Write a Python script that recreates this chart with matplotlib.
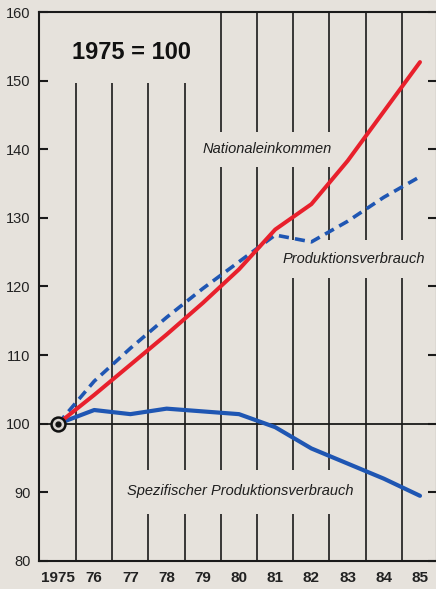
import matplotlib
matplotlib.use("Agg")
import matplotlib.pyplot as plt

# Daten (1975 = 100)
jahre = [1975, 1976, 1977, 1978, 1979, 1980, 1981, 1982, 1983, 1984, 1985]
nationaleinkommen = [100, 104.2, 108.6, 113.0, 117.6, 122.5, 128.3, 132.0, 138.3, 145.5, 152.7]
produktionsverbrauch = [100, 106.2, 111.0, 115.5, 119.7, 123.6, 127.5, 126.5, 129.5, 133.0, 136.0]
spezifisch = [100, 102.0, 101.4, 102.2, 101.8, 101.4, 99.5, 96.4, 94.2, 92.0, 89.5]
x_labels = ['1975', '76', '77', '78', '79', '80', '81', '82', '83', '84', '85']
y_ticks = [80, 90, 100, 110, 120, 130, 140, 150, 160]

bg = '#e6e2dc'
rot = '#e8202c'
blau = '#1f56b3'
plt.rcParams['font.family'] = ['Liberation Sans', 'DejaVu Sans']

fig = plt.figure(figsize=(4.36, 5.89), dpi=100, facecolor=bg)
ax = fig.add_axes([39 / 436, 28 / 589, 398 / 436, 549 / 589], facecolor=bg)
ax.set_xlim(1974.475, 1985.47)
ax.set_ylim(80, 160)

# senkrechte Linien zwischen den Jahren, mit Lücken für die Beschriftungen
gap_nat = (137.4, 142.5)
gap_prod = (121.3, 126.8)
gap_spez = (86.9, 93.3)
top_short = 149.7
segs = {
    1975.5: [(80, top_short)],
    1976.5: [(80, top_short)],
    1977.5: [(80, gap_spez[0]), (gap_spez[1], top_short)],
    1978.5: [(80, gap_spez[0]), (gap_spez[1], top_short)],
    1979.5: [(80, gap_spez[0]), (gap_spez[1], gap_nat[0]), (gap_nat[1], 160)],
    1980.5: [(80, gap_spez[0]), (gap_spez[1], gap_nat[0]), (gap_nat[1], 160)],
    1981.5: [(80, gap_spez[0]), (gap_spez[1], gap_prod[0]), (gap_prod[1], gap_nat[0]), (gap_nat[1], 160)],
    1982.5: [(80, gap_spez[0]), (gap_spez[1], gap_prod[0]), (gap_prod[1], gap_nat[0]), (gap_nat[1], 160)],
    1983.5: [(80, gap_prod[0]), (gap_prod[1], 160)],
    1984.5: [(80, gap_prod[0]), (gap_prod[1], 160)],
}
for xv, parts in segs.items():
    for y0, y1 in parts:
        ax.vlines(xv, y0, y1, color='#1a1a1a', lw=1.2, zorder=1)

ax.axhline(100, color='#1a1a1a', lw=1.3, zorder=1)

ax.plot(jahre, spezifisch, color=blau, lw=3.0, solid_capstyle='round', zorder=3)
ax.plot(jahre, produktionsverbrauch, color=blau, lw=2.6, linestyle=(0, (2.8, 1.7)), zorder=3)
ax.plot(jahre, nationaleinkommen, color=rot, lw=2.9, solid_capstyle='round', zorder=4)

# Ausgangspunkt
ax.plot([1975], [100], marker='o', ms=10, mfc='#d8d4d0', mec='#111111', mew=1.8, zorder=5, clip_on=False)
ax.plot([1975], [100], marker='o', ms=3.5, mfc='#111111', mec='#111111', zorder=6, clip_on=False)

ax.text(1977.04, 154.05, '1975 = 100', fontsize=17, fontweight='bold', ha='center', va='center', color='#111111')
ax.text(1980.77, 140.0, 'Nationaleinkommen', fontsize=10.5, style='italic', ha='center', va='center', color='#1e1e1e')
ax.text(1983.18, 124.0, 'Produktionsverbrauch', fontsize=10.5, style='italic', ha='center', va='center', color='#1e1e1e')
ax.text(1980.03, 90.2, 'Spezifischer Produktionsverbrauch', fontsize=10.5, style='italic', ha='center', va='center', color='#1e1e1e')

ax.set_xticks(jahre)
ax.set_xticklabels(x_labels, fontsize=11, fontweight='bold', color='#222222')
ax.set_yticks(y_ticks)
ax.set_yticklabels([str(v) for v in y_ticks], fontsize=10.5, color='#222222')
ax.tick_params(axis='x', length=0, pad=7)
ax.tick_params(axis='y', direction='in', length=6.5, width=1.5, pad=6, right=True, color='#1a1a1a')

for side in ['left', 'bottom', 'top', 'right']:
    ax.spines[side].set_linewidth(1.5)
    ax.spines[side].set_color('#1a1a1a')

fig.savefig('out.png', dpi=100, facecolor=bg)
